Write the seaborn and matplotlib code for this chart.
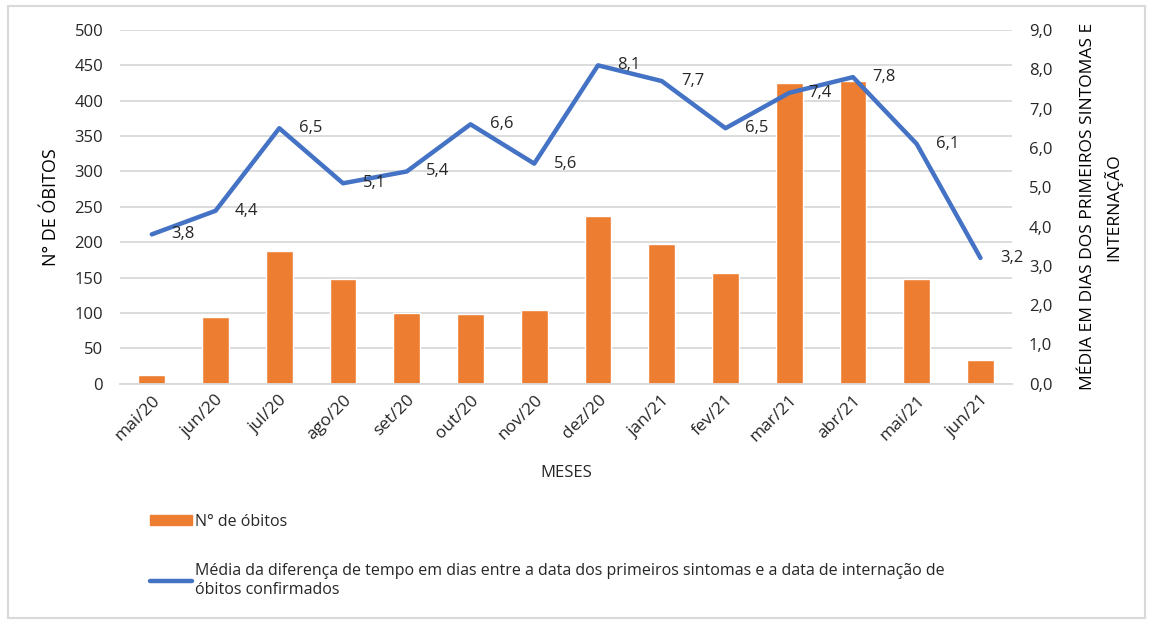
import numpy as np
import pandas as pd
import matplotlib.pyplot as plt
import seaborn as sns
from matplotlib.patches import Rectangle

meses = ["mai/20", "jun/20", "jul/20", "ago/20", "set/20", "out/20", "nov/20",
         "dez/20", "jan/21", "fev/21", "mar/21", "abr/21", "mai/21", "jun/21"]
obitos = [13, 95, 188, 148, 100, 98, 104, 237, 197, 157, 425, 428, 148, 34]
media_dias = [3.8, 4.4, 6.5, 5.1, 5.4, 6.6, 5.6, 8.1, 7.7, 6.5, 7.4, 7.8, 6.1, 3.2]

ORANGE = "#ED7D31"
BLUE = "#4472C4"
GRID = "#D9D9D9"
TEXT = "#262626"

sns.set_style("white")
plt.rcParams["font.family"] = ["Open Sans", "DejaVu Sans"]
plt.rcParams["text.color"] = TEXT

df = pd.DataFrame({"mes": meses, "obitos": obitos, "media": media_dias})
df["pos"] = np.arange(len(df))

fig = plt.figure(figsize=(11.53, 6.24), dpi=100)
ax = fig.add_axes([0.104, 0.385, 0.774, 0.567])

sns.barplot(data=df, x="mes", y="obitos", color=ORANGE, width=0.42,
            saturation=1, ax=ax, zorder=2)
ax.set_ylim(0, 500)
ax.set_yticks(range(0, 501, 50))
ax.yaxis.grid(True, color=GRID, linewidth=1.3, zorder=0)
ax.set_axisbelow(True)
ax.set_xlim(-0.5, len(meses) - 0.5)
ax.set_ylabel("N° DE ÓBITOS", fontsize=13, color="black", labelpad=10)
ax.set_xlabel("MESES", fontsize=12, color=TEXT, labelpad=14)
ax.tick_params(axis="y", length=0, labelsize=12, labelcolor=TEXT, pad=12)
ax.tick_params(axis="x", length=0, labelsize=12.5, labelcolor=TEXT, pad=6)
plt.setp(ax.get_xticklabels(), rotation=45, ha="right", rotation_mode="anchor")
ax.set_xticks(np.arange(-0.5, len(meses), 1), minor=True)
ax.tick_params(axis="x", which="minor", length=6, color=GRID, width=1.3)
for s in ["top", "left", "right"]:
    ax.spines[s].set_visible(False)
ax.spines["bottom"].set_color(GRID)
ax.spines["bottom"].set_linewidth(1.3)

ax2 = ax.twinx()
sns.lineplot(data=df, x="pos", y="media", color=BLUE, linewidth=3.2, ax=ax2,
             zorder=3)
ax2.set_ylim(0, 9)
ax2.set_yticks(np.arange(0, 9.1, 1))
ax2.set_yticklabels([f"{v:.1f}".replace(".", ",") for v in np.arange(0, 9.1, 1)])
ax2.tick_params(axis="y", length=0, labelsize=12, labelcolor=TEXT, pad=12)
ax2.set_ylabel("MÉDIA EM DIAS DOS PRIMEIROS SINTOMAS E\nINTERNAÇÃO", fontsize=12.5,
               color="black", labelpad=20, linespacing=1.45)
ax2.set_xlim(-0.5, len(meses) - 0.5)
ax2.set_xlabel("")
for s in ax2.spines.values():
    s.set_visible(False)

for xp, v in zip(df["pos"], df["media"]):
    ax2.annotate(f"{v:.1f}".replace(".", ","), (xp, v), xytext=(14, 0),
                 textcoords="offset points", ha="left", va="center",
                 fontsize=12, color=TEXT)

h1 = plt.Rectangle((0, 0), 1, 1, color=ORANGE)
h2 = plt.Line2D([0], [0], color=BLUE, linewidth=3.2)
fig.legend([h1, h2],
           ["N° de óbitos",
            "Média da diferença de tempo em dias entre a data dos primeiros sintomas e a data de internação de\nóbitos confirmados"],
           loc="upper left", bbox_to_anchor=(0.118, 0.2), frameon=False,
           fontsize=11.5, handlelength=2.6, handleheight=0.6, handletextpad=0.2,
           labelspacing=2.1)

fig.patches.append(Rectangle((0.007, 0.01), 0.986, 0.98, transform=fig.transFigure,
                             fill=False, edgecolor="#D9D9D9", linewidth=1.5))

fig.savefig("out.png", dpi=100)
